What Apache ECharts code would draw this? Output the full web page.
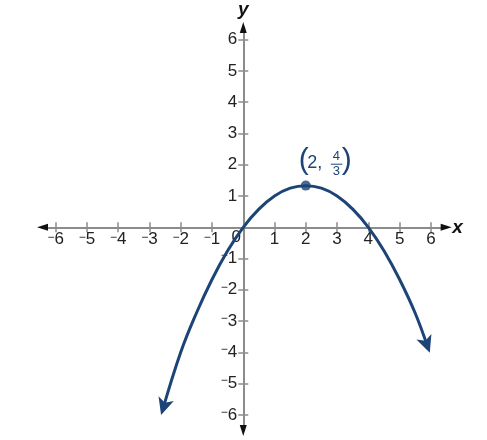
<!DOCTYPE html>
<html>
    <head>
        <meta charset="UTF-8" />
        <script src="https://cdn.jsdelivr.net/npm/echarts@6/dist/echarts.min.js"></script>
        <style>
            body { margin: 0; background: #ffffff; }
        </style>
    </head>
    <body>
        <div id="container" style="width: 487px; height: 440px;"></div>
        <script>
            // values
            var curveX = [-2.58, -2, -1.5, -1, -0.5, 0, 0.5, 1, 1.5, 2, 2.5, 3, 3.5, 4, 4.5, 5, 5.5, 5.91];
            var curveY = [-5.85, -4, -2.75, -1.67, -0.75, 0, 0.58, 1, 1.25, 1.33, 1.25, 1, 0.58, 0, -0.75, -1.67, -2.75, -3.86];
            var vertex = [2, 4 / 3];
            var tickValues = [-6, -5, -4, -3, -2, -1, 1, 2, 3, 4, 5, 6];
            var xMin = -6.42, xMax = 6.49;
            var yMin = -6.5, yMax = 6.39;

            var blue = '#1c4477';
            var axisGray = '#8c8c8c';
            var textColor = '#222222';
            var fnt = 'Liberation Sans';

            function tickLabel(v) {
                if (v < 0) {
                    return '{m|\u2212}' + Math.abs(v);
                }
                return '' + v;
            }

            function makeAxis(dim, main) {
                var ax = {
                    type: 'value',
                    min: dim === 'x' ? xMin : yMin,
                    max: dim === 'x' ? xMax : yMax,
                    splitLine: { show: false },
                    axisLine: {
                        show: true,
                        onZero: false,
                        symbol: main ? 'none' : ['triangle', 'triangle'],
                        symbolSize: [7, 11],
                        lineStyle: main ? { color: axisGray, width: 2 } : { color: '#111111', width: 0 }
                    },
                    axisTick: {
                        show: true,
                        length: 5,
                        customValues: tickValues,
                        lineStyle: { color: axisGray, width: 1.5 }
                    },
                    axisLabel: {
                        show: main,
                        customValues: tickValues,
                        formatter: tickLabel,
                        color: textColor,
                        fontSize: 17,
                        fontFamily: fnt,
                        margin: dim === 'x' ? 4 : 6,
                        rich: {
                            m: { fontSize: 12, verticalAlign: 'top', color: textColor, fontFamily: fnt }
                        }
                    }
                };
                if (dim === 'x') {
                    ax.position = main ? 'bottom' : 'top';
                } else {
                    ax.position = main ? 'left' : 'right';
                }
                if (main) {
                    ax.name = dim;
                    ax.nameLocation = 'end';
                    ax.nameGap = dim === 'x' ? 6 : 8;
                    ax.nameTextStyle = {
                        fontFamily: fnt,
                        fontStyle: 'italic',
                        fontWeight: 'bold',
                        fontSize: 19,
                        color: '#111111'
                    };
                }
                return ax;
            }

            var chart = echarts.init(document.getElementById('container'));

            var curveData = [];
            for (var i = 0; i < curveX.length; i++) {
                curveData.push({ value: [curveX[i], curveY[i]] });
            }
            var n = curveData.length;

            var option = {
                backgroundColor: '#ffffff',
                animation: false,
                grid: { left: 42.5, right: 40.8, top: 27.5, bottom: 9.5, containLabel: false, outerBoundsMode: 'none' },
                xAxis: [makeAxis('x', true), makeAxis('x', false)],
                yAxis: [makeAxis('y', true), makeAxis('y', false)],
                series: [
                    {
                        type: 'line',
                        data: curveData,
                        smooth: 0.4,
                        symbol: 'none',
                        showSymbol: true,
                        lineStyle: { color: blue, width: 3 },
                        itemStyle: { color: blue },
                        z: 3
                    },
                    {
                        type: 'scatter',
                        data: [vertex],
                        symbolSize: 10,
                        itemStyle: { color: blue },
                        z: 4
                    }
                ]
            };
            chart.setOption(option);

            function px(v) { return chart.convertToPixel({ xAxisIndex: 0 }, v); }
            function py(v) { return chart.convertToPixel({ yAxisIndex: 0 }, v); }

            // move the axes onto the zero lines
            var x0 = px(0), y0 = py(0);
            var xAxes = [makeAxis('x', true), makeAxis('x', false)];
            var yAxes = [makeAxis('y', true), makeAxis('y', false)];
            xAxes[0].offset = -(py(yMin) - y0);
            xAxes[1].offset = -(y0 - py(yMax));
            yAxes[0].offset = -(x0 - px(xMin));
            yAxes[1].offset = -(px(xMax) - x0);

            // arrow heads at both ends of the curve, turned along the curve
            function arrowAt(idx, prev) {
                var a = chart.convertToPixel({ seriesIndex: 0 }, [curveX[prev], curveY[prev]]);
                var b = chart.convertToPixel({ seriesIndex: 0 }, [curveX[idx], curveY[idx]]);
                var dx = b[0] - a[0], dy = b[1] - a[1];
                var len = Math.sqrt(dx * dx + dy * dy);
                var ang = Math.atan2(-dx, -dy) * 180 / Math.PI;
                curveData[idx] = {
                    value: [curveX[idx], curveY[idx]],
                    symbol: 'arrow',
                    symbolSize: [12, 17],
                    symbolRotate: ang,
                    symbolOffset: [dx / len * 5, dy / len * 5]
                };
            }
            arrowAt(0, 1);
            arrowAt(n - 1, n - 2);

            var o = chart.convertToPixel({ seriesIndex: 0 }, [0, 0]);
            var p = chart.convertToPixel({ seriesIndex: 0 }, vertex);

            chart.setOption({
                xAxis: xAxes,
                yAxis: yAxes,
                series: [{ data: curveData }],
                graphic: [
                    {
                        type: 'text', x: o[0] - 7, y: o[1] + 10, z: 1,
                        style: { text: '0', fontSize: 17, fontFamily: fnt, fill: textColor, align: 'center', verticalAlign: 'middle' }
                    },
                    {
                        type: 'group', x: p[0], y: p[1],
                        children: [
                            { type: 'text', x: -2, y: -25, style: { text: '(', fontSize: 30, fontFamily: fnt, fill: blue, align: 'center', verticalAlign: 'middle' } },
                            { type: 'text', x: 1.5, y: -23, style: { text: '2,', fontSize: 18, fontFamily: fnt, fill: blue, align: 'left', verticalAlign: 'middle' } },
                            { type: 'text', x: 30.5, y: -29, style: { text: '4', fontSize: 13, fontFamily: fnt, fill: blue, align: 'center', verticalAlign: 'middle' } },
                            { type: 'line', shape: { x1: 25, y1: -21.4, x2: 36.6, y2: -21.4 }, style: { stroke: blue, lineWidth: 1 } },
                            { type: 'text', x: 30.5, y: -14.5, style: { text: '3', fontSize: 13, fontFamily: fnt, fill: blue, align: 'center', verticalAlign: 'middle' } },
                            { type: 'text', x: 41, y: -25, style: { text: ')', fontSize: 30, fontFamily: fnt, fill: blue, align: 'center', verticalAlign: 'middle' } }
                        ]
                    }
                ]
            });
        </script>
    </body>
</html>
